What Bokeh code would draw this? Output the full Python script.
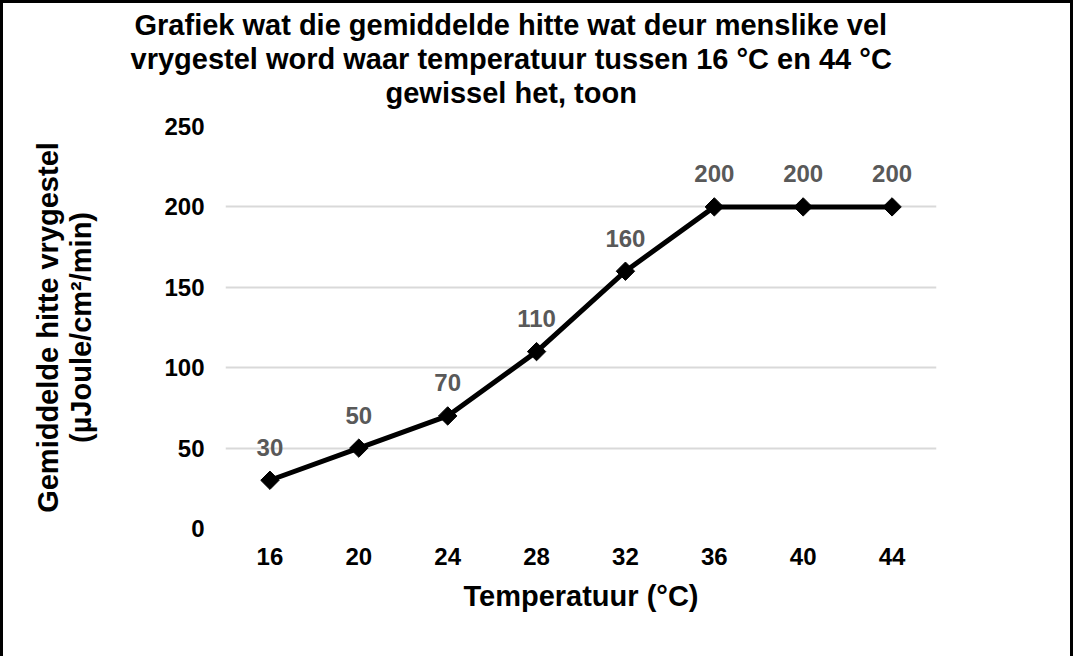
import math
from bokeh.plotting import figure
from bokeh.models import Title, FactorRange, Range1d, ColumnDataSource, FixedTicker
from bokeh.core.properties import value
from bokeh.embed import file_html
from bokeh.resources import INLINE

# ---- data ----
temperatures = ["16", "20", "24", "28", "32", "36", "40", "44"]
heat_released = [30, 50, 70, 110, 160, 200, 200, 200]
y_ticks = [0, 50, 100, 150, 200, 250]
title_lines = [
    "Grafiek wat die gemiddelde hitte wat deur menslike vel",
    "vrygestel word waar temperatuur tussen 16 °C en 44 °C",
    "gewissel het, toon",
]
x_title = "Temperatuur (°C)"
y_title = "Gemiddelde hitte vrygestel\n(µJoule/cm²/min)"

FONT = "Liberation Sans"

src = ColumnDataSource(dict(x=temperatures, y=heat_released,
                            label=[str(v) for v in heat_released]))

p = figure(
    title=None,
    x_range=FactorRange(*temperatures),
    y_range=Range1d(0, 250),
    width=1073, height=656,
    output_backend="svg", toolbar_location=None,
    min_border_left=222, min_border_right=140,
    min_border_top=123, min_border_bottom=131,
)
p.styles = {"border-top": "3px solid black", "border-left": "3px solid black",
            "border-right": "3px solid black", "box-sizing": "border-box"}

# spacer between the title block and the plot area
p.add_layout(Title(text=" ", text_font=FONT, text_font_size="14px",
                   text_line_height=1.0, standoff=0, offset=0), "above")
# titles (closest to the plot area first); the title block is centred a bit
# left of the plot area, as in the original, via left-aligned offsets
title_offsets = {2: 160, 1: -95, 0: -91}
for i in [2, 1, 0]:
    p.add_layout(Title(text=title_lines[i], text_font=FONT, text_font_size="29px",
                       text_font_style="bold", align="left", text_color="black",
                       text_line_height=1.0, standoff=0,
                       offset=title_offsets[i]), "above")

p.line("x", "y", source=src, line_width=5, line_color="black")
p.scatter("x", "y", source=src, marker="square", angle=math.pi / 4, size=13,
          fill_color="black", line_color="black")
p.text("x", "y", text="label", source=src, text_font=value(FONT),
       text_font_style="bold", text_font_size="24px", text_color="#595959",
       text_align="center", text_baseline="middle", y_offset=-33)

p.outline_line_color = None
p.background_fill_color = "white"
p.border_fill_color = "white"

p.xgrid.grid_line_color = None
p.ygrid.grid_line_color = "#d9d9d9"
p.ygrid.grid_line_width = 2
p.yaxis.ticker = FixedTicker(ticks=y_ticks)

for ax in (p.xaxis[0], p.yaxis[0]):
    ax.axis_line_color = None
    ax.major_tick_line_color = None
    ax.minor_tick_line_color = None
    ax.major_tick_out = 0
    ax.major_tick_in = 0
    ax.minor_tick_out = 0
    ax.minor_tick_in = 0
    ax.major_label_text_font = FONT
    ax.major_label_text_font_style = "bold"
    ax.major_label_text_font_size = "24px"
    ax.major_label_text_color = "black"
    ax.axis_label_text_font = FONT
    ax.axis_label_text_font_style = "bold"
    ax.axis_label_text_font_size = "29px"
    ax.axis_label_text_color = "black"

p.yaxis.axis_label_text_line_height = 1.05
p.xaxis.axis_label = x_title
p.yaxis.axis_label = y_title
p.xaxis.major_label_standoff = 19
p.yaxis.major_label_standoff = 21
p.xaxis.axis_label_standoff = 12
p.yaxis.axis_label_standoff = 64

open("out.html", "w").write(file_html(p, INLINE))
